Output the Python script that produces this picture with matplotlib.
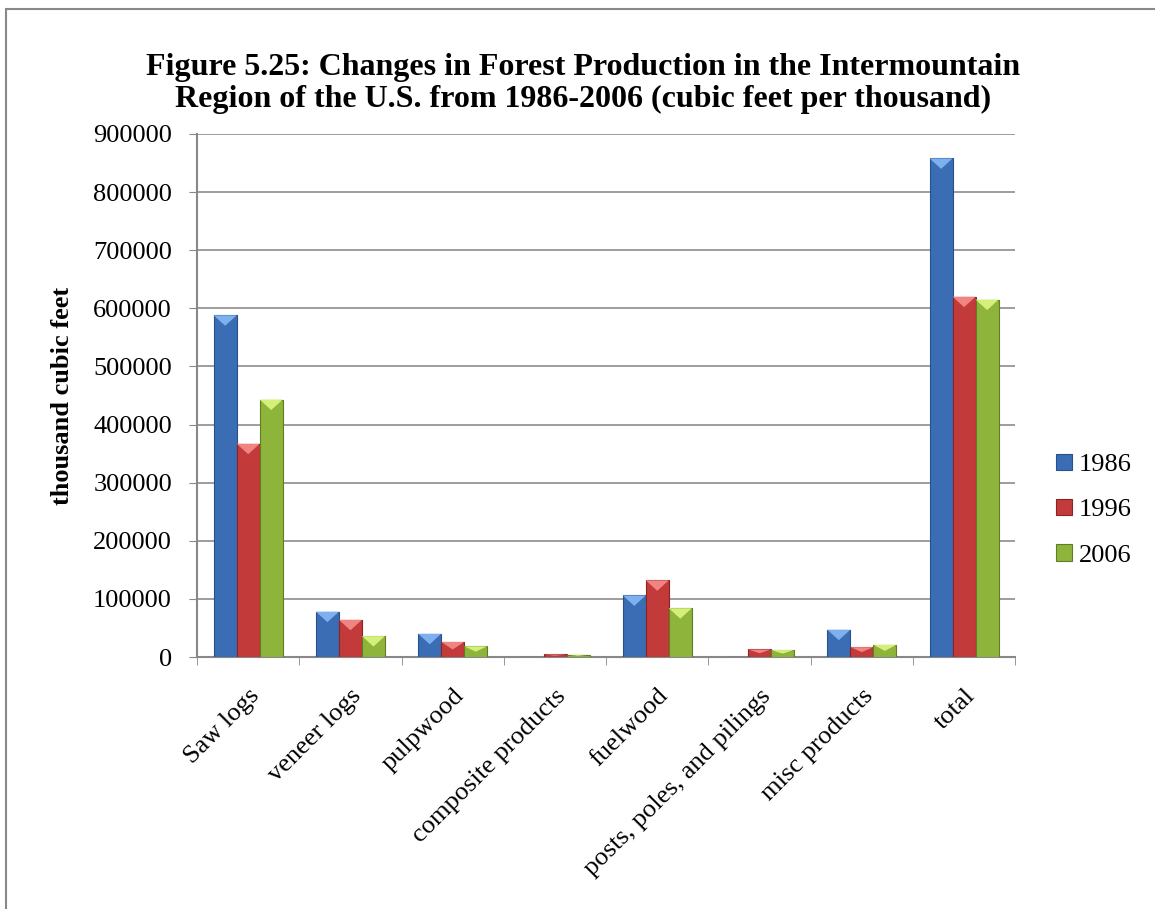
import numpy as np
import matplotlib.pyplot as plt
from matplotlib.patches import Polygon, Rectangle

categories = ['Saw logs', 'veneer logs', 'pulpwood', 'composite products',
              'fuelwood', 'posts, poles, and pilings', 'misc products', 'total']
years = ['1986', '1996', '2006']
v1986 = [588000, 78000, 40000, 0, 106000, 0, 47000, 858000]
v1996 = [367000, 64000, 26000, 4500, 132000, 13000, 17000, 620000]
v2006 = [443000, 36000, 18500, 4000, 84000, 12000, 21000, 615000]

colors = ['#3b6db4', '#c23b3a', '#8fb43c']
tops = ['#7fb0ee', '#f08483', '#d4f07a']
edges = ['#28508a', '#8a2424', '#5f7e24']

plt.rcParams['font.family'] = ['Liberation Serif', 'DejaVu Serif']

fig = plt.figure(figsize=(11.55, 9.09), dpi=100)
fig.patches.append(Rectangle((0.005, -0.01), 1.0, 1.0, transform=fig.transFigure,
                             fill=False, edgecolor='#888888', linewidth=1.5))
ax = fig.add_axes([0.1706, 0.2772, 0.7084, 0.5754])

x = np.arange(len(categories))
w = 0.225
for i, vals in enumerate([v1986, v1996, v2006]):
    pos = x + (i - 1) * w
    ax.bar(pos, vals, width=w, color=colors[i], edgecolor=edges[i], linewidth=0.8,
           label=years[i], zorder=3)
    # bevelled top highlight
    for p, v in zip(pos, vals):
        if v <= 0:
            continue
        h = min(v * 0.5, 18000)
        tri = Polygon([[p - w / 2, v], [p + w / 2, v], [p, v - h]],
                      closed=True, color=tops[i], zorder=4, linewidth=0)
        ax.add_patch(tri)

ax.set_xlim(-0.5, len(categories) - 0.5)
ax.set_ylim(0, 900000)
ax.set_yticks(np.arange(0, 900001, 100000))
ax.set_yticklabels([str(v) for v in range(0, 900001, 100000)], fontsize=19)
ax.set_xticks(x)
ax.set_xticklabels(categories, rotation=45, ha='right', rotation_mode='anchor', fontsize=19)
ax.set_xticks(np.arange(-0.5, len(categories), 1), minor=True)
ax.tick_params(axis='x', which='major', length=0, pad=20)
ax.tick_params(axis='x', which='minor', length=6, color='#888888')
ax.tick_params(axis='y', length=6, color='#888888', pad=12)
ax.grid(axis='y', color='#8c8c8c', linewidth=1.2, zorder=0)
for s in ['top', 'right']:
    ax.spines[s].set_visible(False)
for s in ['left', 'bottom']:
    ax.spines[s].set_color('#888888')
    ax.spines[s].set_linewidth(1.5)

ax.set_ylabel('thousand cubic feet', fontsize=19, fontweight='bold', labelpad=14)
fig.suptitle('Figure 5.25: Changes in Forest Production in the Intermountain\n'
             'Region of the U.S. from 1986-2006 (cubic feet per thousand)',
             fontsize=23, fontweight='bold', x=0.505, y=0.942, linespacing=1.15)

ax.legend(loc='center left', bbox_to_anchor=(1.05, 0.281), frameon=False, fontsize=19,
          borderaxespad=0, borderpad=0,
          handlelength=0.6, handleheight=0.6, handletextpad=0.25, labelspacing=0.85)

fig.savefig('out.png', dpi=100)
